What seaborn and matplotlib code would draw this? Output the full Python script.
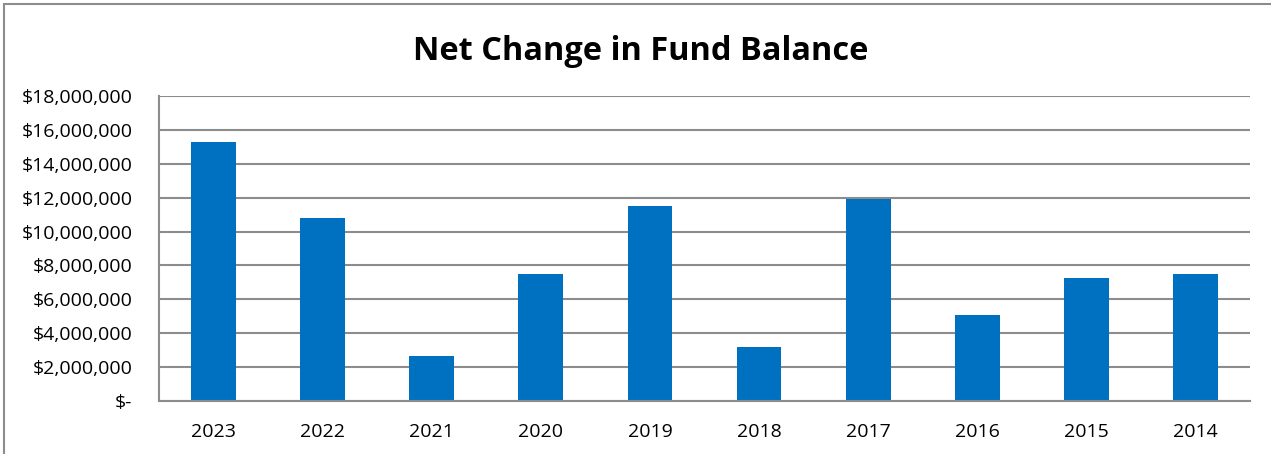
import matplotlib
matplotlib.use("Agg")
import matplotlib.pyplot as plt
import matplotlib.ticker as mticker
from matplotlib.lines import Line2D
import pandas as pd
import seaborn as sns

# Fiscal years and net change in fund balance (USD)
years = ["2023", "2022", "2021", "2020", "2019", "2018", "2017", "2016", "2015", "2014"]
net_change = [15290000, 10800000, 2670000, 7470000, 11530000,
              3210000, 11920000, 5090000, 7260000, 7470000]
y_ticks = [0, 2000000, 4000000, 6000000, 8000000, 10000000,
           12000000, 14000000, 16000000, 18000000]

df = pd.DataFrame({"year": years, "value": net_change})

sns.set_theme(style="white")
plt.rcParams["font.family"] = ["Open Sans", "DejaVu Sans"]

fig = plt.figure(figsize=(12.71, 4.54), dpi=100)
ax = fig.add_axes([0.1251, 0.1167, 0.8584, 0.6718])

sns.barplot(data=df, x="year", y="value", order=years, color="#0070C0",
            width=0.41, saturation=1, ax=ax, edgecolor="none")

ax.set_ylim(0, 18000000)
ax.set_xlim(-0.5, len(years) - 0.5)
ax.set_yticks(y_ticks)


def money(v, _pos):
    return "$-" if v == 0 else f"${v:,.0f}"


ax.yaxis.set_major_formatter(mticker.FuncFormatter(money))
ax.grid(axis="y", color="#8c8c8c", linewidth=1.5)
ax.set_axisbelow(True)
for side in ("top", "right"):
    ax.spines[side].set_visible(False)
for side in ("left", "bottom"):
    ax.spines[side].set_color("#8c8c8c")
    ax.spines[side].set_linewidth(1.5)
ax.tick_params(axis="both", length=0, labelsize=14, colors="black")
ax.tick_params(axis="y", pad=19)
ax.tick_params(axis="x", pad=16)
ax.set_xlabel("")
ax.set_ylabel("")

fig.text(0.504, 0.8678, "Net Change in Fund Balance", ha="center", va="baseline",
         fontsize=23.4, fontweight="bold", color="black")

# chart-area frame along the top and left edges
fig.add_artist(Line2D([0.0028, 1.0], [0.9912, 0.9912], color="#8c8c8c",
                      linewidth=1.5, transform=fig.transFigure))
fig.add_artist(Line2D([0.0028, 0.0028], [0.0, 0.9912], color="#8c8c8c",
                      linewidth=1.5, transform=fig.transFigure))

fig.savefig("out.png", dpi=100, facecolor="white")
